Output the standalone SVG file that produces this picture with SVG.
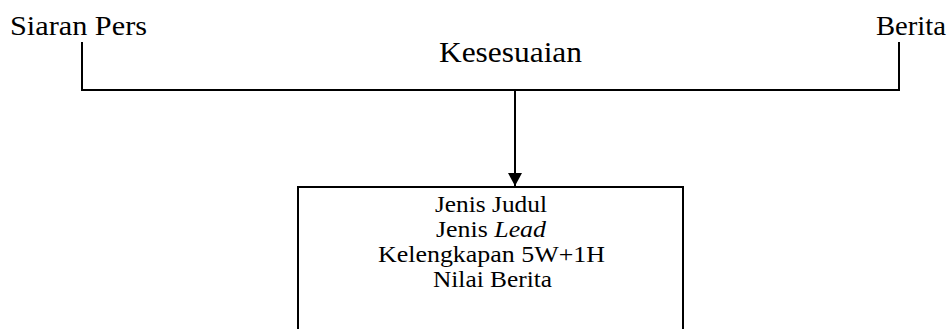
<svg xmlns="http://www.w3.org/2000/svg" width="951" height="329" viewBox="0 0 951 329">
<style>
text{font-family:"Liberation Serif","Times New Roman",serif;fill:#000}
.lbl{font-size:28px}
.box{font-size:23px}
.ln{stroke:#000;stroke-width:2;fill:none}
</style>
<defs>
<marker id="ah" markerWidth="13" markerHeight="14" refX="13" refY="7" orient="auto" markerUnits="userSpaceOnUse" viewBox="0 0 13 14">
<path d="M0,0 L13,7 L0,14 Z" fill="#000"/>
</marker>
</defs>
<rect width="951" height="329" fill="#fff"/>
<g id="siaran-pers"><text class="lbl" x="10" y="35" textLength="137" lengthAdjust="spacingAndGlyphs">Siaran Pers</text></g>
<g id="berita"><text class="lbl" x="876" y="35" textLength="70" lengthAdjust="spacingAndGlyphs">Berita</text></g>
<g id="kesesuaian"><text x="510.5" y="62" text-anchor="middle" font-size="30" textLength="143" lengthAdjust="spacingAndGlyphs">Kesesuaian</text></g>
<g id="connectors">
<path class="ln" d="M82,42 V90 H899 V42"/>
<path class="ln" d="M515,90 V186" marker-end="url(#ah)"/>
</g>
<g id="kriteria">
<rect class="ln" x="298" y="187" width="385" height="160"/>
<text class="box" x="491" y="212" text-anchor="middle" textLength="112" lengthAdjust="spacingAndGlyphs">Jenis Judul</text>
<text class="box" x="491" y="237" text-anchor="middle" textLength="110" lengthAdjust="spacingAndGlyphs">Jenis <tspan font-style="italic">Lead</tspan></text>
<text class="box" x="491.5" y="262" text-anchor="middle" textLength="227" lengthAdjust="spacingAndGlyphs">Kelengkapan 5W+1H</text>
<text class="box" x="492.5" y="287" text-anchor="middle" textLength="119" lengthAdjust="spacingAndGlyphs">Nilai Berita</text>
</g>
</svg>
